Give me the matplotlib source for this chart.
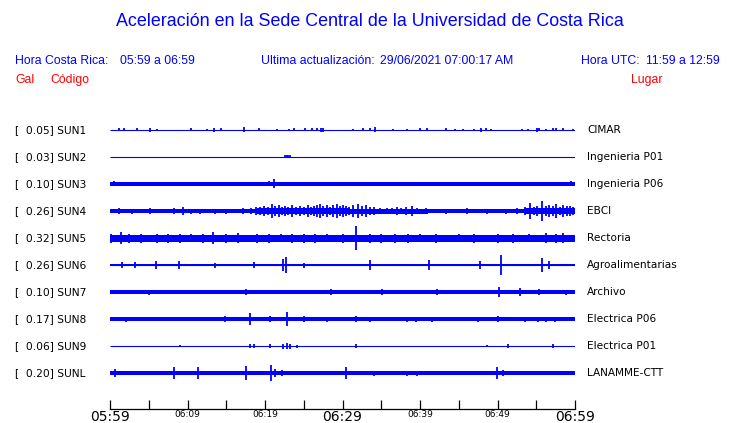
import matplotlib
matplotlib.use("Agg")
import matplotlib.pyplot as plt
import matplotlib.transforms as mtransforms

# =====================================================
# DATA
# time in minutes after 05:59, amplitudes = half height in pixels
# =====================================================
codes = ["SUN1", "SUN2", "SUN3", "SUN4", "SUN5", "SUN6", "SUN7", "SUN8", "SUN9", "SUNL"]
gal = [0.05, 0.03, 0.10, 0.26, 0.32, 0.26, 0.10, 0.17, 0.06, 0.20]
places = ["CIMAR", "Ingenieria P01", "Ingenieria P06", "EBCI", "Rectoria",
          "Agroalimentarias", "Archivo", "Electrica P06", "Electrica P01", "LANAMME-CTT"]

# background noise level of each trace
base_amp = [0.0, 0.0, 1.7, 1.7, 3.5, 1.2, 1.8, 1.9, 0.0, 1.9]

# stretches of stronger noise: (start, end, half amplitude)
segments = {
    "SUN4": [(17, 19, 2.3), (19, 31, 3), (31, 41, 2.5), (41, 53.5, 2.0), (53.5, 60, 3)],
}

# individual bursts: (time, half amplitude)
bursts = {
    "SUN1": [(1.2, 1.5), (1.8, 1.5), (3.5, 1.5), (5.2, 2), (6.1, 1.2), (10.4, 1.5), (12.5, 1),
             (13.4, 2), (14.3, 1.5), (17.3, 2.5), (19.2, 1.5), (21.6, 1), (23.1, 1), (23.8, 1.5),
             (25.1, 1.5), (26.1, 1.5), (26.7, 1.5), (27.2, 2), (27.5, 2), (31.3, 1), (32.6, 1.5),
             (33.5, 1.5), (34.2, 2.5), (36.5, 1), (38.3, 1), (40.0, 1.5), (40.9, 1.5), (43.4, 1.5),
             (44.5, 1), (45.5, 1), (47.0, 1), (47.9, 2), (48.5, 1.5), (49.2, 1), (53.1, 1),
             (53.9, 1), (55.1, 2), (55.4, 1.5), (56.3, 1), (57.2, 1.5), (57.6, 1.5), (58.4, 1.5),
             (59.8, 1)],
    "SUN2": [(22.6, 1.5), (22.8, 1.5), (23.0, 1.5), (23.2, 1.5)],
    "SUN3": [(0.5, 2.5), (5.0, 2.2), (12.0, 2.2), (20.5, 2.5), (21.2, 4.5), (27.0, 2.2),
             (40.0, 2.2), (52.0, 2.2), (59.5, 2.5)],
    "SUN4": [(1.2, 3), (2.8, 2.5), (5.1, 3), (8.3, 3), (9.4, 4), (10.5, 2.5), (11.6, 2.5),
             (13.5, 2.5), (15.0, 2.5), (17.2, 3), (18.2, 3), (18.9, 4), (19.4, 4), (19.9, 5),
             (20.4, 4), (20.9, 7), (21.3, 5), (21.8, 6), (22.2, 4), (22.6, 5), (23.0, 4),
             (23.5, 6), (24.0, 4), (24.5, 5), (25.0, 4), (25.5, 6), (25.9, 4), (26.3, 5),
             (26.7, 6), (27.1, 7), (27.5, 5), (28.0, 6), (28.4, 4), (28.8, 6), (29.3, 7),
             (29.7, 5), (30.1, 6), (30.5, 5), (30.9, 4), (31.4, 6), (32.0, 7), (32.5, 5),
             (33.0, 6), (33.5, 4), (34.0, 4), (34.8, 3), (35.7, 3), (36.4, 3), (37.0, 4),
             (37.6, 3), (38.2, 4), (39.0, 5), (39.6, 3), (40.8, 3), (43.4, 2.5), (46.0, 3),
             (48.6, 2.5), (51.1, 2.5), (52.5, 3), (53.6, 4), (54.2, 8), (54.7, 4), (55.1, 5),
             (55.8, 10), (56.2, 5), (56.6, 6), (57.1, 5), (57.6, 7), (58.0, 4), (58.5, 6),
             (59.0, 5), (59.4, 5), (59.8, 4)],
    "SUN5": [(0.1, 4.5), (1.4, 6), (2.5, 4.5), (4.0, 4.5), (6.0, 4.5), (7.5, 4.5), (9.0, 4.5),
             (10.5, 4), (12.0, 4.5), (13.3, 6), (15.0, 4.5), (16.5, 5), (19.0, 4.5), (20.5, 4.5),
             (22.0, 4), (23.5, 4.5), (25.0, 4.5), (26.5, 4.5), (28.0, 4), (30.0, 4.5),
             (31.8, 12), (33.5, 4.5), (35.0, 4.5), (36.8, 4.5), (38.5, 4.5), (40.0, 4),
             (42.0, 4.5), (45.0, 4), (47.0, 4.5), (50.0, 4.5), (52.0, 4.5), (54.0, 4),
             (56.3, 5), (57.5, 4.5), (58.5, 5)],
    "SUN6": [(1.5, 3), (3.2, 3), (5.9, 4), (8.9, 4), (13.5, 2.5), (18.6, 3), (22.3, 6),
             (22.7, 8), (25.0, 2.5), (33.6, 5), (41.2, 5), (47.8, 4), (50.4, 10), (55.7, 7),
             (56.7, 4)],
    "SUN7": [(5.0, 2.5), (17.5, 3), (28.5, 3), (35.1, 3), (42.2, 3), (50.2, 5), (52.9, 4),
             (55.4, 3), (58.8, 2.5)],
    "SUN8": [(2.1, 2.5), (14.8, 3), (18.0, 6), (20.6, 3), (22.9, 7), (25.0, 3), (28.0, 2.5),
             (31.7, 3), (33.5, 2.5), (38.3, 2.5), (39.5, 2.5), (41.5, 2.5), (47.5, 2.5),
             (50.0, 3), (53.5, 2.5), (55.2, 2.5), (56.3, 2.5), (57.4, 2.5)],
    "SUN9": [(9.0, 1), (18.0, 2), (18.6, 2), (20.7, 2), (22.3, 2.5), (22.8, 3), (23.2, 2.5),
             (24.1, 1.5), (31.8, 2), (48.6, 1), (51.4, 2), (57.1, 2)],
    "SUNL": [(0.7, 4), (8.2, 6), (11.4, 6), (17.5, 7), (20.8, 8), (21.3, 4), (22.2, 3),
             (30.4, 6), (34.0, 2.5), (38.3, 2.5), (39.6, 2.5), (49.9, 6), (50.7, 3)],
}

# =====================================================
# FIGURE
# =====================================================
BLUE = "#0000ff"
RED = "#ff0000"
W, H = 740, 423
fig = plt.figure(figsize=(W / 100, H / 100), dpi=100)

# axes frame in pixels: x from 110 to 575, axis line at y=409
ax = fig.add_axes([110 / W, (H - 409) / H, 465 / W, (409 - 115) / H])
ax.set_xlim(0, 60)
ax.set_ylim(409, 115)
for s in ["top", "left", "right"]:
    ax.spines[s].set_visible(False)
ax.spines["bottom"].set_linewidth(0.9)
ax.set_yticks([])

lbl = mtransforms.blended_transform_factory(fig.transFigure, ax.transData)

for i, code in enumerate(codes):
    c = 130 + 27 * i
    ax.plot([0, 60], [c, c], color=BLUE, lw=0.8, solid_capstyle="butt")
    if base_amp[i] > 0:
        ax.fill_between([0, 60], c - base_amp[i], c + base_amp[i], color=BLUE, lw=0)
    for t0, t1, a in segments.get(code, []):
        ax.fill_between([t0, t1], c - a, c + a, color=BLUE, lw=0)
    bt = [b[0] for b in bursts.get(code, [])]
    ba = [b[1] for b in bursts.get(code, [])]
    ax.vlines(bt, [c - a for a in ba], [c + a for a in ba], color=BLUE, lw=1.3)

    ax.text(15 / W, c, f"[  {gal[i]:.2f}] {code}", transform=lbl, ha="left", va="center",
            fontsize=7.7, family="DejaVu Sans", color="black")
    ax.text(587 / W, c, places[i], transform=lbl, ha="left", va="center",
            fontsize=7.6, family="DejaVu Sans", color="black")

# --- time axis ---
ticks = list(range(0, 61, 5))
tick_text = {0: "05:59", 10: "06:09", 20: "06:19", 30: "06:29", 40: "06:39", 50: "06:49", 60: "06:59"}
ax.set_xticks(ticks)
ax.set_xticklabels([tick_text.get(t, "") for t in ticks])
ax.tick_params(axis="x", direction="in", length=6.5, width=0.9, pad=0.8)
for t, tl in zip(ticks, ax.get_xticklabels()):
    tl.set_family("DejaVu Sans")
    tl.set_fontsize(10 if t in (0, 30, 60) else 6.5)

# --- header ---
hdr = dict(family="Liberation Sans", va="center", ha="left", fontsize=8.8)
fig.text(0.5, 1 - 22 / H, "Aceleración en la Sede Central de la Universidad de Costa Rica",
         fontsize=12.9, color=BLUE, family="Liberation Sans", ha="center", va="center")
fig.text(15 / W, 1 - 60.5 / H, "Hora Costa Rica:", color=BLUE, **hdr)
fig.text(120 / W, 1 - 60.5 / H, "05:59 a 06:59", color=BLUE, **hdr)
fig.text(261 / W, 1 - 60.5 / H, "Ultima actualización:", color=BLUE, **hdr)
fig.text(380 / W, 1 - 60.5 / H, "29/06/2021 07:00:17 AM", color=BLUE, **hdr)
fig.text(581 / W, 1 - 60.5 / H, "Hora UTC:", color=BLUE, **hdr)
fig.text(646 / W, 1 - 60.5 / H, "11:59 a 12:59", color=BLUE, **hdr)
fig.text(15 / W, 1 - 80 / H, "Gal", color=RED, **hdr)
fig.text(50 / W, 1 - 80 / H, "Código", color=RED, **hdr)
fig.text(631 / W, 1 - 80 / H, "Lugar", color=RED, **hdr)

fig.savefig("out.png", dpi=100)
